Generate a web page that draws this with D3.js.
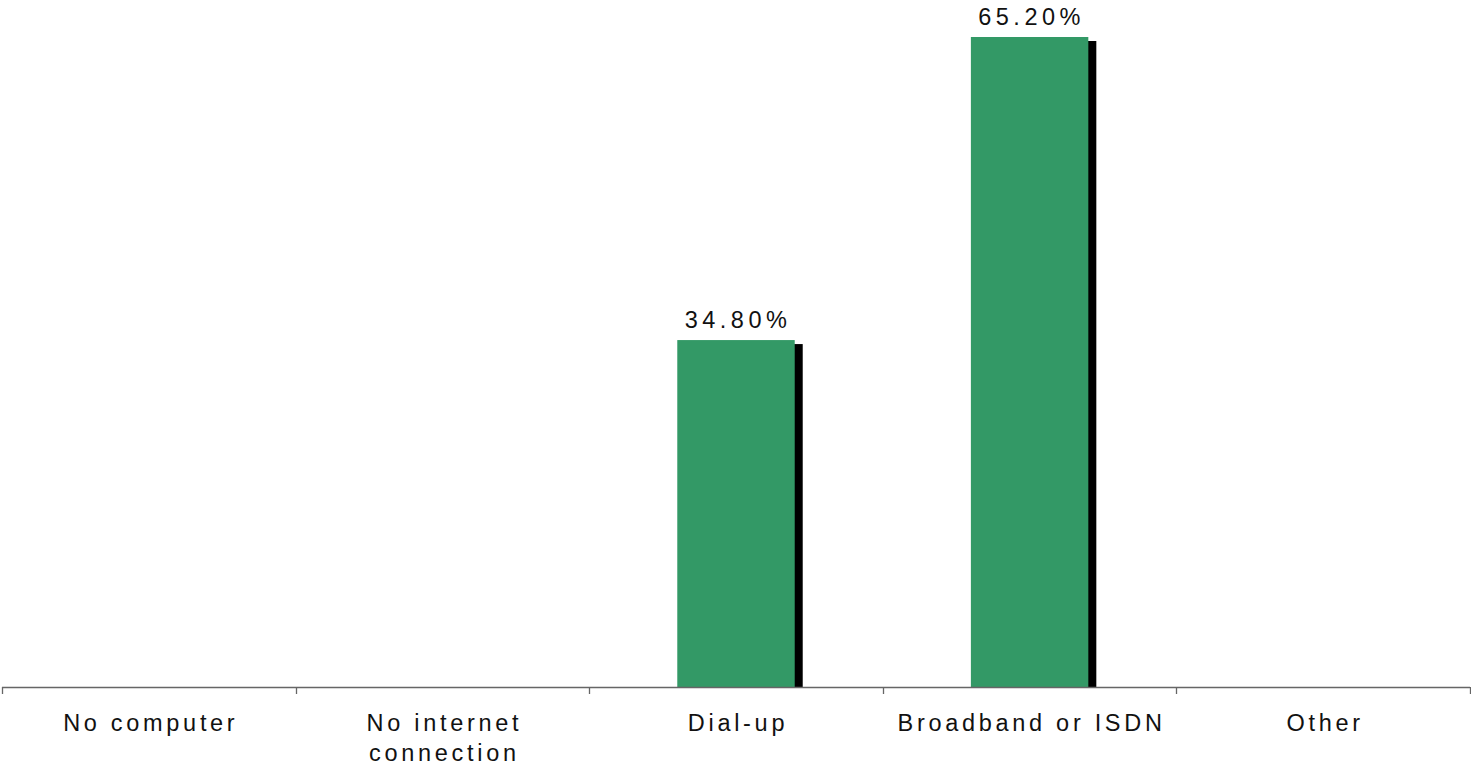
<!DOCTYPE html>
<html><head><meta charset="utf-8">
<script src="https://cdn.jsdelivr.net/npm/d3@7"></script>
<style>html,body{margin:0;padding:0;background:#fff;}svg{display:block;}</style>
</head><body>
<svg id="chart" width="1471" height="766"></svg>
<script>
const categories = ["No computer", "No internet\nconnection", "Dial-up", "Broadband or ISDN", "Other"];
const values = [0, 0, 34.8, 65.2, 0];
const valueLabels = ["", "", "34.80%", "65.20%", ""];

const svg = d3.select("#chart");
const left = 2, right = 1470, base = 687;
const x = d3.scaleBand().domain(categories).range([left, right]).paddingInner(0).paddingOuter(0);
const xb = d3.scaleBand().domain(categories).range([left, right]).paddingInner(0.6).paddingOuter(0.3);
const y = d3.scaleLinear().domain([0, 65.2]).range([base, 37]);

const font = "'Liberation Sans', Arial, sans-serif";
const data = categories.map((c, i) => ({c, v: values[i], l: valueLabels[i]})).filter(d => d.v > 0);

// shadows
svg.append("g").selectAll("rect").data(data).join("rect")
  .attr("x", d => xb(d.c) + 8).attr("y", d => y(d.v) + 4)
  .attr("width", xb.bandwidth()).attr("height", d => base - y(d.v) - 4)
  .attr("fill", "#000");
// bars
svg.append("g").selectAll("rect").data(data).join("rect")
  .attr("x", d => xb(d.c)).attr("y", d => y(d.v))
  .attr("width", xb.bandwidth()).attr("height", d => base - y(d.v))
  .attr("fill", "#339966");
// value labels
svg.append("g").selectAll("text").data(data).join("text")
  .attr("x", d => xb(d.c) + xb.bandwidth() / 2 + 2).attr("y", d => y(d.v) - 12)
  .attr("text-anchor", "middle").attr("font-family", font).attr("font-size", 23.5)
  .attr("letter-spacing", "4.5px").attr("fill", "#111").text(d => d.l);

// axis
const g = svg.append("g").attr("transform", `translate(0,${base})`);
g.append("line").attr("x1", left).attr("x2", right).attr("y1", 0.5).attr("y2", 0.5).attr("stroke", "#666").attr("stroke-width", 1.3);
const tickPos = categories.map(c => x(c)).concat([right]);
g.selectAll(".tk").data(tickPos).join("line").attr("class", "tk")
  .attr("x1", d => Math.round(d) + 0.5).attr("x2", d => Math.round(d) + 0.5)
  .attr("y1", 0).attr("y2", 7).attr("stroke", "#666").attr("stroke-width", 1.3);

// category labels
const lab = svg.append("g").selectAll("text").data(categories).join("text")
  .attr("x", d => x(d) + x.bandwidth() / 2 + 2).attr("y", 731)
  .attr("text-anchor", "middle").attr("font-family", font).attr("font-size", 23.5)
  .attr("letter-spacing", "3.7px").attr("fill", "#111");
lab.each(function(d) {
  const lines = d.split("\n");
  const t = d3.select(this);
  lines.forEach((ln, i) => {
    t.append("tspan").attr("x", x(d) + x.bandwidth() / 2 + 2).attr("dy", i === 0 ? 0 : 30).text(ln);
  });
});
</script>
</body></html>
